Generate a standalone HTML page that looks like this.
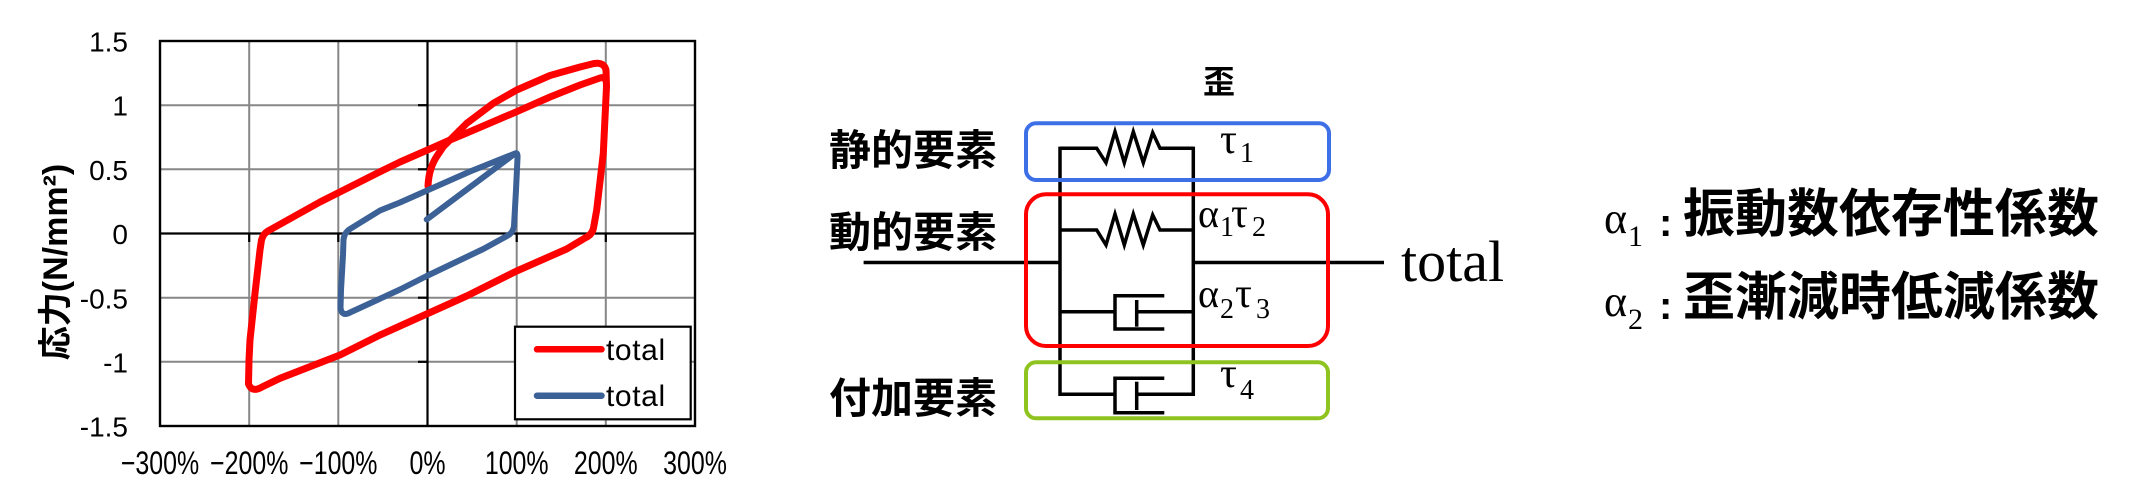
<!DOCTYPE html>
<html>
<head>
<meta charset="utf-8">
<style>
  html,body{margin:0;padding:0;background:#fff;}
  svg{display:block;}
</style>
</head>
<body>
<svg width="2134" height="496" viewBox="0 0 2134 496" xmlns="http://www.w3.org/2000/svg">
  <rect x="0" y="0" width="2134" height="496" fill="#fff"/>

  <!-- ============ CHART ============ -->
  <g stroke="#878787" stroke-width="2" fill="none">
    <line x1="249.2" y1="41" x2="249.2" y2="426"/>
    <line x1="338.3" y1="41" x2="338.3" y2="426"/>
    <line x1="516.7" y1="41" x2="516.7" y2="426"/>
    <line x1="605.8" y1="41" x2="605.8" y2="426"/>
    <line x1="160" y1="105.2" x2="695" y2="105.2"/>
    <line x1="160" y1="169.3" x2="695" y2="169.3"/>
    <line x1="160" y1="297.7" x2="695" y2="297.7"/>
    <line x1="160" y1="361.8" x2="695" y2="361.8"/>
  </g>
  <g stroke="#000" stroke-width="2.2" fill="none">
    <line x1="427.5" y1="41" x2="427.5" y2="426"/>
    <line x1="160" y1="233.5" x2="695" y2="233.5"/>
    <line x1="418" y1="105.2" x2="427.5" y2="105.2"/>
    <line x1="418" y1="169.3" x2="427.5" y2="169.3"/>
    <line x1="418" y1="297.7" x2="427.5" y2="297.7"/>
    <line x1="418" y1="361.8" x2="427.5" y2="361.8"/>
    <line x1="249.2" y1="233.5" x2="249.2" y2="242"/>
    <line x1="338.3" y1="233.5" x2="338.3" y2="242"/>
    <line x1="516.7" y1="233.5" x2="516.7" y2="242"/>
    <line x1="605.8" y1="233.5" x2="605.8" y2="242"/>
  </g>
  <rect x="160" y="41" width="535" height="385" fill="none" stroke="#000" stroke-width="2.4"/>

  <!-- red loop -->
  <path d="M428,186 C428.5,175 431,165 437,156 L443.3,146.7 L455,135 L466.7,123.3 L493.3,103.3 L516.7,90 L550,75.5 L580,67 L594,63.5 Q604,62 606,70 L606.5,86.7 L603.3,153.3 L596.7,210 L593.5,228 Q592,235 585,238 L566.7,249 L516.7,271 L466.7,296 L426.7,314 L400,326 L380,335 L340,355 L280,378.3 L262,387 Q252,393 248.5,384 L249,360 L250,340 L255,293.3 L260,250 L261.5,240 Q263,234 268,231 L320,202 L380,171.7 L400,162 L427.5,150 L450,140 L466.7,133 L516.7,111.7 L550,97 L580,85 L600,78 Q606,76 606.5,84"
        fill="none" stroke="#ff0000" stroke-width="7" stroke-linejoin="round" stroke-linecap="round"/>

  <!-- blue loop -->
  <path d="M426.7,219.5 L515,153.5 Q518,152 517.5,158 L516,190 L514,226 Q513,233 507,236 L483.3,249 L426.7,276 L400,289.5 L350,312.5 Q342,317 340.5,308 L341,290 L343,255 L343.5,240 Q344,233 350,229 L380,210.5 L400,202.5 L427,190.5 L470,171.5 L515,153.5"
        fill="none" stroke="#3b6196" stroke-width="6" stroke-linejoin="round" stroke-linecap="round"/>

  <!-- legend -->
  <rect x="515" y="326.7" width="175.7" height="92.6" fill="#fff" stroke="#000" stroke-width="2.2"/>
  <line x1="537" y1="349.3" x2="601.5" y2="349.3" stroke="#ff0000" stroke-width="6.5" stroke-linecap="round"/>
  <line x1="537" y1="395.7" x2="601.5" y2="395.7" stroke="#3b6196" stroke-width="6.5" stroke-linecap="round"/>
  <g font-family="'Liberation Sans', sans-serif" font-size="30" fill="#000">
    <text x="606" y="360" letter-spacing="0.6">total</text>
    <text x="606" y="406" letter-spacing="0.6">total</text>
  </g>

  <!-- y tick labels -->
  <g font-family="'Liberation Sans', sans-serif" font-size="28" fill="#000" text-anchor="end">
    <text x="128" y="51.5">1.5</text>
    <text x="128" y="115.7">1</text>
    <text x="128" y="180">0.5</text>
    <text x="128" y="244">0</text>
    <text x="128" y="308.3">-0.5</text>
    <text x="128" y="372.5">-1</text>
    <text x="128" y="436.6">-1.5</text>
  </g>
  <!-- x tick labels (condensed) -->
  <g font-family="'Liberation Sans', sans-serif" font-size="29" fill="#000" text-anchor="middle">
    <text transform="translate(160,474) scale(0.86,1.12)">−300%</text>
    <text transform="translate(249.2,474) scale(0.86,1.12)">−200%</text>
    <text transform="translate(338.3,474) scale(0.86,1.12)">−100%</text>
    <text transform="translate(427.5,474) scale(0.86,1.12)">0%</text>
    <text transform="translate(516.7,474) scale(0.86,1.12)">100%</text>
    <text transform="translate(605.8,474) scale(0.86,1.12)">200%</text>
    <text transform="translate(695,474) scale(0.86,1.12)">300%</text>
  </g>
  <!-- y axis title -->
  <text transform="translate(67,262) rotate(-90)" text-anchor="middle"
        font-family="'Liberation Sans', 'Noto Sans CJK JP', sans-serif" font-size="34" font-weight="bold" fill="#000">応力(N/mm²)</text>

  <!-- ============ MODEL DIAGRAM ============ -->
  <g stroke="#000" stroke-width="3.5" fill="none" stroke-linejoin="miter" stroke-linecap="butt">
    <path d="M1060,146.6 V396"/>
    <path d="M1193.3,146.6 V396"/>
    <path d="M1060,148.3 H1096.7 L1106,162.7 L1115,131.7 L1124.3,162.7 L1133.3,131.7 L1143.3,162.7 L1152.7,132.7 L1160,148.3 H1193.3"/>
    <path d="M1060,230 H1096.7 L1106,245 L1115,214 L1124.3,245 L1133.3,214 L1143.3,245 L1152.7,215 L1160,230 H1193.3"/>
    <path d="M863.6,262.5 H1060"/>
    <path d="M1193.3,262.5 H1384"/>
    <path d="M1060,311.7 H1115"/>
    <path d="M1164.3,295.7 H1115 V329 H1164.3"/>
    <path d="M1136.7,300 V326.7"/>
    <path d="M1136.7,311.7 H1193.3"/>
    <path d="M1060,394.3 H1115"/>
    <path d="M1164.3,378.3 H1115 V412.7 H1164.3"/>
    <path d="M1136.7,381.7 V410"/>
    <path d="M1136.7,394.3 H1193.3"/>
  </g>

  <rect x="1026" y="123.3" width="303" height="56.7" rx="10" ry="10" fill="none" stroke="#3d6fe6" stroke-width="4"/>
  <rect x="1026" y="194.3" width="302" height="151.7" rx="20" ry="20" fill="none" stroke="#ff0000" stroke-width="4"/>
  <rect x="1026" y="362.3" width="302" height="56" rx="10" ry="10" fill="none" stroke="#8fc31f" stroke-width="4"/>

  <g font-family="'Liberation Sans', 'Noto Sans CJK JP', sans-serif" font-weight="bold" fill="#000">
    <text x="1219" y="93" font-size="32" text-anchor="middle">歪</text>
    <text x="829" y="165" font-size="42">静的要素</text>
    <text x="829" y="247" font-size="42">動的要素</text>
    <text x="829" y="413" font-size="42">付加要素</text>
  </g>

  <g font-family="'Liberation Serif', serif" fill="#000">
    <text x="1220" y="153" font-size="42">τ</text>
    <text x="1240" y="162" font-size="28">1</text>

    <text x="1198" y="227" font-size="40">α</text>
    <text x="1220" y="236" font-size="28">1</text>
    <text x="1231" y="227" font-size="42">τ</text>
    <text x="1252" y="236" font-size="28">2</text>

    <text x="1198" y="307" font-size="40">α</text>
    <text x="1220" y="318" font-size="28">2</text>
    <text x="1235" y="307" font-size="42">τ</text>
    <text x="1256" y="318" font-size="28">3</text>

    <text x="1220" y="387" font-size="42">τ</text>
    <text x="1240" y="399" font-size="28">4</text>

    <text x="1401" y="281" font-size="58">total</text>
  </g>

  <!-- right legend -->
  <g font-family="'Liberation Serif', serif" fill="#000">
    <text x="1604" y="233" font-size="44">α</text>
    <text x="1628" y="246" font-size="30">1</text>
    <text x="1604" y="316" font-size="44">α</text>
    <text x="1628" y="329" font-size="30">2</text>
  </g>
  <g font-family="'Liberation Sans', 'Noto Sans CJK JP', sans-serif" font-weight="bold" fill="#000">
    <text x="1659" y="236" font-size="40">:</text>
    <text x="1659" y="319" font-size="40">:</text>
    <text x="1683" y="232" font-size="52">振動数依存性係数</text>
    <text x="1683" y="315" font-size="52">歪漸減時低減係数</text>
  </g>
</svg>
</body>
</html>
